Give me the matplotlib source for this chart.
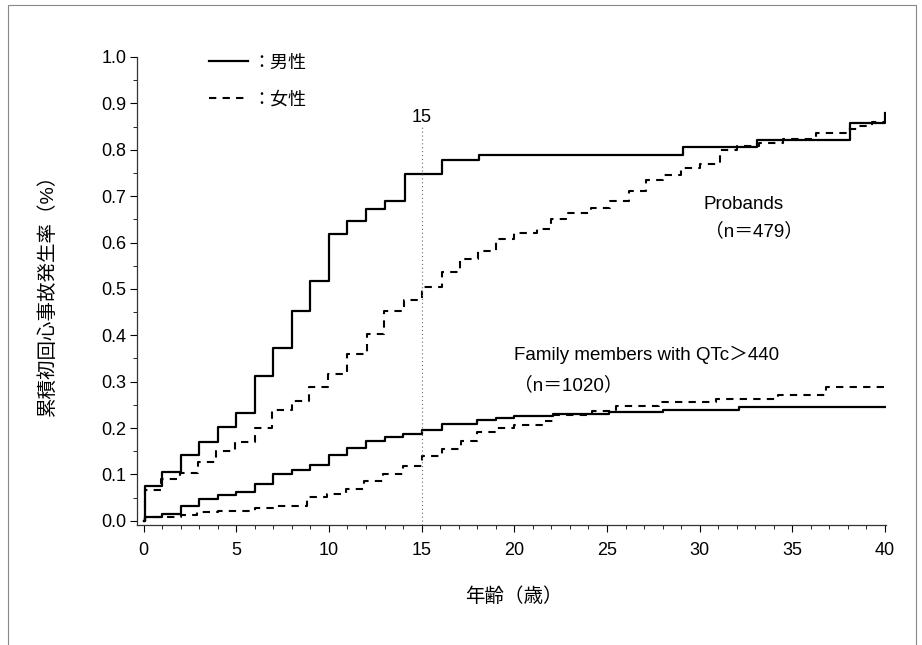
import matplotlib
matplotlib.use('Agg')
import matplotlib.pyplot as plt
from matplotlib.patches import Rectangle
from matplotlib.ticker import MultipleLocator, FormatStrFormatter

# 日本語フォント
plt.rcParams['font.family'] = ['Liberation Sans', 'Noto Sans CJK JP']

# Probands 男性
age_pm = [0, 0.05, 1, 2, 3, 4, 5, 6, 7, 8, 9, 10, 11, 12, 13, 14.1, 16.1, 18.1, 29.1, 33.1, 38.1, 40]
val_pm = [0.0, 0.075, 0.106, 0.142, 0.170, 0.203, 0.233, 0.313, 0.373, 0.453, 0.516, 0.618, 0.647,
          0.672, 0.690, 0.747, 0.778, 0.789, 0.805, 0.821, 0.858, 0.879]
# Probands 女性
age_pf = [0, 0.05, 0.95, 1.95, 2.93, 3.9, 4.93, 6.0, 6.95, 8.0, 8.95, 9.97, 10.95, 12.05, 12.95, 14.05,
          15.0, 16.1, 17.05, 18.05, 19.0, 20.0, 21.2, 22.0, 22.8, 24.15, 25.15, 26.2, 27.1, 28.0,
          29.0, 30.0, 31.1, 32.0, 33.2, 34.5, 36.3, 38.0, 38.5, 39.3, 40]
val_pf = [0.0, 0.067, 0.090, 0.103, 0.126, 0.150, 0.171, 0.201, 0.238, 0.259, 0.289, 0.317, 0.359,
          0.403, 0.453, 0.476, 0.505, 0.537, 0.564, 0.582, 0.607, 0.620, 0.630, 0.651, 0.663, 0.674,
          0.690, 0.712, 0.735, 0.746, 0.760, 0.770, 0.800, 0.807, 0.814, 0.823, 0.836, 0.844, 0.851,
          0.860, 0.860]
# Family members 男性
age_fm = [0, 0.1, 1, 2, 3, 4, 5, 6, 7, 8, 9, 10, 11, 12, 13, 14, 15, 16.1, 18.0, 19.0, 20.0, 22.1,
          25.1, 28.0, 32.1, 40]
val_fm = [0.0, 0.009, 0.014, 0.032, 0.047, 0.056, 0.063, 0.080, 0.101, 0.110, 0.121, 0.142, 0.158,
          0.172, 0.180, 0.187, 0.196, 0.209, 0.218, 0.222, 0.226, 0.230, 0.234, 0.238, 0.245, 0.245]
# Family members 女性
age_ff = [0, 0.1, 2.0, 2.9, 4.0, 6.0, 7.0, 8.8, 9.9, 10.9, 11.9, 12.9, 14.0, 15.0, 16.1, 17.1, 18.0,
          19.0, 20.0, 21.5, 22.1, 24.2, 25.5, 27.8, 30.9, 34.2, 36.8, 40]
val_ff = [0.0, 0.008, 0.012, 0.018, 0.021, 0.027, 0.032, 0.052, 0.058, 0.068, 0.085, 0.101, 0.118,
          0.139, 0.154, 0.173, 0.192, 0.200, 0.207, 0.216, 0.228, 0.236, 0.248, 0.257, 0.262, 0.272,
          0.288, 0.288]

cut_age = 15

fig = plt.figure(figsize=(9.22, 6.45), dpi=100)
ax = fig.add_axes([0.1491, 0.1853, 0.8118, 0.7264])

solid = dict(color='black', lw=1.6, linestyle='-')
dash = dict(color='black', lw=1.5, linestyle=(0, (3.5, 3.0)))

l1, = ax.step(age_pm, val_pm, where='post', **solid)
l2, = ax.step(age_pf, val_pf, where='post', **dash)
ax.step(age_fm, val_fm, where='post', **solid)
ax.step(age_ff, val_ff, where='post', **dash)

# 15歳の点線
ax.axvline(cut_age, ymin=0, ymax=0.85, color='dimgray', lw=0.8, linestyle=(0, (1, 2.5)))
ax.text(cut_age, 0.869, '15', ha='center', va='center', fontsize=13)

ax.text(30.2, 0.681, 'Probands', ha='left', va='center', fontsize=13.5)
ax.text(30.3, 0.624, '（n＝479）', ha='left', va='center', fontsize=13.5)
ax.text(20.0, 0.358, 'Family members with QTc＞440', ha='left', va='center', fontsize=13.5)
ax.text(20.0, 0.293, '（n＝1020）', ha='left', va='center', fontsize=13.5)

ax.legend([l1, l2], ['：男性', '：女性'], loc='upper left', bbox_to_anchor=(0.095, 1.005),
          frameon=False, fontsize=13, handlelength=2.2, handletextpad=0.2,
          labelspacing=1.1, borderpad=0, borderaxespad=0)

ax.set_xlim(-0.33, 40.05)
ax.set_ylim(-0.01, 1.0)
ax.xaxis.set_major_locator(MultipleLocator(5))
ax.xaxis.set_minor_locator(MultipleLocator(1))
ax.yaxis.set_major_locator(MultipleLocator(0.1))
ax.yaxis.set_minor_locator(MultipleLocator(0.05))
ax.yaxis.set_major_formatter(FormatStrFormatter('%.1f'))
ax.tick_params(axis='both', which='major', length=5, width=0.8, labelsize=13)
ax.tick_params(axis='x', which='major', pad=7)
ax.tick_params(axis='y', which='major', pad=3)
ax.tick_params(axis='both', which='minor', length=3, width=0.6)

for s in ['top', 'right']:
    ax.spines[s].set_visible(False)
for s in ['left', 'bottom']:
    ax.spines[s].set_linewidth(0.9)
    ax.spines[s].set_color('#333333')

fig.text(0.051, (645 - 290) / 645, '累積初回心事故発生率（%）', rotation=90,
         ha='center', va='center', fontsize=14)
fig.text(514 / 922, (645 - 597) / 645, '年齢（歳）', ha='center', va='center', fontsize=14)

# 外枠
fig.patches.append(Rectangle((0.009, -0.05), 0.985, 1.042, transform=fig.transFigure,
                             fill=False, edgecolor='#888888', lw=0.8))

fig.savefig('out.png', dpi=100)
